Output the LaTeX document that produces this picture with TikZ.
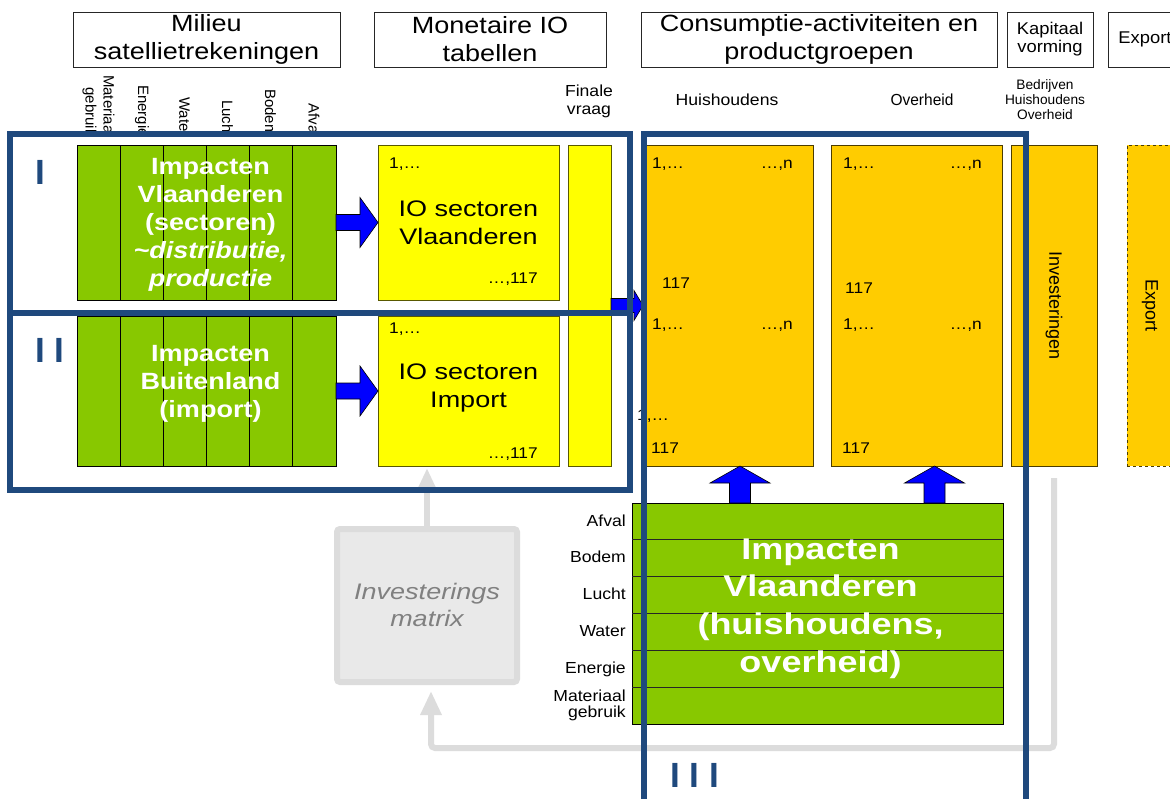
\documentclass[tikz,border=0pt]{standalone}
\usepackage{fontspec}
\setmainfont{Liberation Sans}
\usetikzlibrary{arrows.meta,calc}
\definecolor{fblue}{RGB}{31,73,125}
\definecolor{ggreen}{RGB}{136,200,0}
\definecolor{yyel}{RGB}{255,255,0}
\definecolor{oor}{RGB}{255,204,0}
\definecolor{arrblue}{RGB}{0,0,255}
\definecolor{lgray}{RGB}{220,220,220}
\definecolor{mgray}{RGB}{233,233,233}
\definecolor{tgray}{RGB}{128,128,128}
\newcommand\fsz[2]{\fontsize{#1}{#2}\selectfont}
\newcommand\harrow[5]{\path[barrow] let \p1=(#1), \p2=(#2) in (\x1,\y1+#3) -- (\x2-#5,\y1+#3) -- (\x2-#5,\y1+#4) -- (\x2,\y1) -- (\x2-#5,\y1-#4) -- (\x2-#5,\y1-#3) -- (\x1,\y1-#3) -- cycle;}
\newcommand\varrow[5]{\path[barrow] let \p1=(#1), \p2=(#2) in (\x1+#3,\y1) -- (\x1+#3,\y2-#5) -- (\x1+#4,\y2-#5) -- (\x1,\y2) -- (\x1-#4,\y2-#5) -- (\x1-#3,\y2-#5) -- (\x1-#3,\y1) -- cycle;}
\begin{document}
\begin{tikzpicture}[x=1pt,y=-1pt,
  bx/.style={draw=black, line width=0.9pt, inner sep=0pt, outer sep=0pt, anchor=north west},
  gbx/.style={bx, fill=ggreen},
  ybx/.style={bx, fill=yyel, draw=yyel!35!black},
  obx/.style={bx, fill=oor, draw=oor!30!black},
  tbx/.style={draw=black!85, line width=0.8pt, inner sep=0pt, outer sep=0pt, anchor=north west, minimum height=55pt},
  ttxt/.style={inner sep=0pt, align=center, xscale=1.15, font=\fsz{23.5}{28}},
  stxt/.style={inner sep=0pt, align=center, xscale=1.08, font=\fsz{17}{18}},
  wtxt/.style={inner sep=0pt, align=center, text=white, font=\bfseries\fsz{23.5}{28}, xscale=1.15},
  bigw/.style={inner sep=0pt, align=center, text=white, font=\bfseries\fsz{30}{37.7}, xscale=1.2},
  iotxt/.style={inner sep=0pt, align=center, font=\fsz{22.5}{28}, xscale=1.2},
  num/.style={inner sep=0pt, font=\fsz{15.5}{18}, xscale=1.12},
  hlab/.style={inner sep=0pt, align=center, font=\fsz{16}{18}, xscale=1.1},
  rlab/.style={inner sep=0pt, rotate=-90, anchor=east, align=right, font=\fsz{15}{18}},
  slab/.style={inner sep=0pt, anchor=base east, font=\fsz{16}{16}, xscale=1.1},
  frm/.style={draw=fblue, line width=5.5pt},
  roman/.style={inner sep=0pt, anchor=base west, text=fblue, font=\bfseries\fsz{35}{40}},
  barrow/.style={fill=arrblue, draw=black, line width=0.6pt},
  gline/.style={draw=lgray, line width=6pt},
]
\clip (0,0) rectangle (1170,798);
\fill[white] (0,0) rectangle (1170,798);

% rotated column labels
\begin{scope}
\clip (0,60) rectangle (400,134);
\node[rlab] (lMat) at (98.5,137) {Materiaal\\gebruik};
\node[rlab] (lEne) at (142,137) {Energie};
\node[rlab] (lWat) at (184.5,137) {Water};
\node[rlab] (lLuc) at (227.5,137) {Lucht};
\node[rlab] (lBod) at (270.5,137) {Bodem};
\node[rlab] (lAfv) at (314,137) {Afval};
\end{scope}

% title boxes
\node[tbx, minimum width=267pt] (tMil) at (73,12) {};
\node[tbx, minimum width=232pt] (tMon) at (374,12) {};
\node[tbx, minimum width=356pt] (tCon) at (641,12) {};
\node[tbx, minimum width=86pt] (tKap) at (1007,12) {};
\node[tbx, minimum width=80pt] (tExp) at (1108,12) {};
\node[ttxt] (xMil) at (tMil.center) {Milieu\\satellietrekeningen};
\node[ttxt] (xMon) at (tMon.center) {Monetaire IO\\tabellen};
\node[ttxt] (xCon) at (tCon.center) {Consumptie-activiteiten en\\productgroepen};
\node[stxt] (xKap) at (tKap.center) {Kapitaal\\vorming};
\node[stxt] (xExp) at (1145,39.5) {Export};

% column labels
\node[hlab] (lFin) at (589,101) {Finale\\vraag};
\node[hlab] (lHuis) at (727,100) {Huishoudens};
\node[hlab, xscale=0.88] (lOv) at (922,100) {Overheid};
\node[inner sep=0pt, align=center, font=\fsz{13.7}{15}] (lBed) at (1045,100) {Bedrijven\\Huishoudens\\Overheid};

% investerings matrix
\node[draw=lgray, line width=6pt, fill=mgray, rounded corners=3pt, minimum width=180pt, minimum height=153pt, anchor=north west, inner sep=0pt] (mat) at (334,526) {};
\node[inner sep=0pt, align=center, text=tgray, font=\itshape\fsz{22.5}{27}, xscale=1.2] (xMat) at ($(mat.center)+(0,-1)$) {Investerings\\matrix};

% boxes
\node[gbx, minimum width=259pt, minimum height=155pt] (gI) at (77,145) {};
\node[gbx, minimum width=259pt, minimum height=150pt] (gII) at (77,316) {};
\foreach \i in {1,...,5} {
  \draw[line width=0.9pt] ($(gI.north west)+(43.17*\i,0)$) -- ($(gI.south west)+(43.17*\i,0)$);
  \draw[line width=0.9pt] ($(gII.north west)+(43.17*\i,0)$) -- ($(gII.south west)+(43.17*\i,0)$);
}
\node[wtxt] (xgI) at ($(gI.center)+(4,2)$) {Impacten\\Vlaanderen\\(sectoren)\\\textit{\textasciitilde distributie,}\\\textit{productie}};
\node[wtxt] (xgII) at ($(gII.center)+(4,-7)$) {Impacten\\Buitenland\\(import)};

\node[ybx, minimum width=181pt, minimum height=155pt] (ioV) at (378,145) {};
\node[ybx, minimum width=181pt, minimum height=150pt] (ioI) at (378,316) {};
\node[ybx, minimum width=43pt, minimum height=321pt] (fin) at (568,145) {};
\node[iotxt] (xioV) at (ioV.center) {IO sectoren\\Vlaanderen};
\node[iotxt] (xioI) at ($(ioI.center)+(0,-3)$) {IO sectoren\\Import};
\node[num, anchor=base west] (n1) at (389,168) {1,…};
\node[num, anchor=base east] (n2) at (538,283) {…,117};
\node[num, anchor=base west] (n3) at (389,333) {1,…};
\node[num, anchor=base east] (n4) at (538,458) {…,117};

\node[obx, minimum width=170pt, minimum height=321pt] (hh) at (643,145) {};
\node[obx, minimum width=171pt, minimum height=321pt] (ov) at (831,145) {};
\node[obx, minimum width=86pt, minimum height=321pt] (inv) at (1011,145) {};
\node[obx, dashed, minimum width=46pt, minimum height=321pt] (exp) at (1127,145) {};
\node[inner sep=0pt, rotate=-90, font=\fsz{18}{20}] (xInv) at (inv.center) {Investeringen};
\node[inner sep=0pt, rotate=-90, font=\fsz{18}{20}] (xExpc) at (exp.center) {Export};

\node[num, anchor=base west] (h1) at (652,168) {1,…};
\node[num, anchor=base east] (h2) at (793,168) {…,n};
\node[num, anchor=base west] (h3) at (662,288) {117};
\node[num, anchor=base west] (h4) at (652,329) {1,…};
\node[num, anchor=base east] (h5) at (793,329) {…,n};
\node[num, anchor=base west] (h6) at (637,420) {1,…};
\node[num, anchor=base west] (h7) at (651,453) {117};
\node[num, anchor=base west] (o1) at (843,168) {1,…};
\node[num, anchor=base east] (o2) at (982,168) {…,n};
\node[num, anchor=base west] (o3) at (845,293) {117};
\node[num, anchor=base west] (o4) at (843,329) {1,…};
\node[num, anchor=base east] (o5) at (982,329) {…,n};
\node[num, anchor=base west] (o6) at (842,453) {117};

% grey connectors
\draw[gline, -{Triangle[width=20pt,length=24pt]}] (mat.north) -- ($(mat.north |- ioI.south)+(0,2)$);
\draw[gline, rounded corners=4pt] ($(inv.south)+(0,12)$) |- ($(mat.south)+(4,63)$) -- ($(mat.south)+(4,30)$);
\draw[gline, -{Triangle[width=20pt,length=24pt]}] ($(mat.south)+(4,32)$) -- ($(mat.south)+(4,6)$);

% green III
\node[gbx, minimum width=371pt, minimum height=221pt] (g3) at (632,503) {};
\foreach \i in {1,...,5}
  \draw[line width=1.1pt, black!85] ($(g3.north west)+(0,36.83*\i)$) -- ($(g3.north east)+(0,36.83*\i)$);
\node[bigw] (xg3) at ($(g3.center)+(3,-5)$) {Impacten\\Vlaanderen\\(huishoudens,\\overheid)};
\node[slab] (rAfv) at (626,526) {Afval};
\node[slab] (rBod) at (626,562) {Bodem};
\node[slab] (rLuc) at (626,599) {Lucht};
\node[slab] (rWat) at (626,636) {Water};
\node[slab] (rEne) at (626,673) {Energie};
\node[inner sep=0pt, anchor=east, align=right, font=\fsz{16}{16}, xscale=1.1] (rMat) at (626,705) {Materiaal\\gebruik};

% block arrows
\harrow{gI.east}{ioV.west}{8pt}{25pt}{18pt}
\harrow{gII.east}{ioI.west}{8pt}{25pt}{18pt}
\harrow{fin.east}{hh.west}{7pt}{15pt}{9pt}
\coordinate (ua1) at ($(hh.south)+(12,0)$);
\coordinate (ua2) at ($(ov.south)+(18,0)$);
\varrow{ua1 |- g3.north}{ua1}{10.5pt}{30pt}{17pt}
\varrow{ua2 |- g3.north}{ua2}{10.5pt}{30pt}{17pt}

% frames
\draw[frm] (10,134) rectangle (630,313);
\draw[frm] (10,313) rectangle (630,490);
\draw[frm] (644,830) |- (1026,134) -- (1026,830);

\node[roman] (rI) at (35,184) {I};
\node[roman] (rII) at (35,362) {I I};
\node[roman] (rIII) at (670,787) {I I I};
\end{tikzpicture}
\end{document}
